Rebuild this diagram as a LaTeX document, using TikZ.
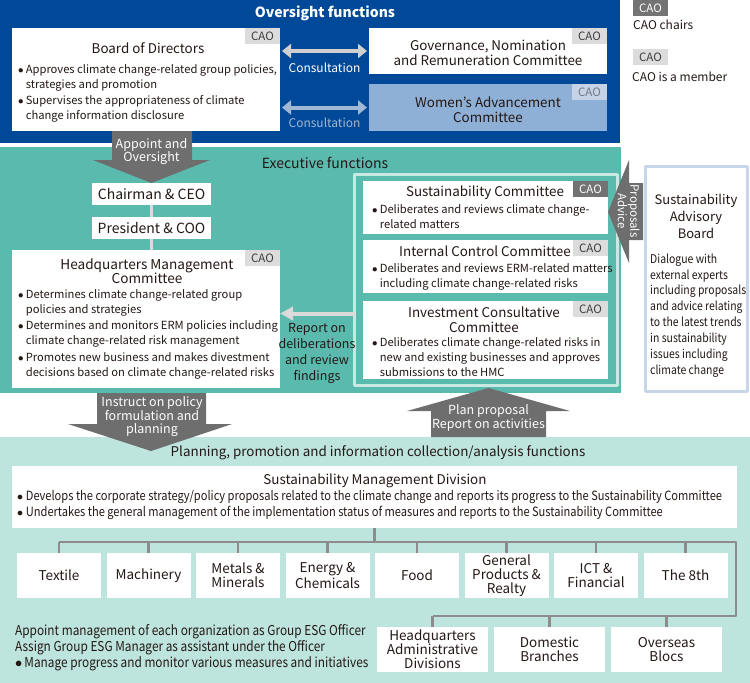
\documentclass[tikz,border=0pt]{standalone}
\usepackage{fontspec}
\setmainfont{Noto Sans CJK JP}
\newfontfamily\condfont[FakeStretch=0.87]{Noto Sans CJK JP}
\usetikzlibrary{arrows.meta,positioning}

\definecolor{oblue}{RGB}{0,73,152}
\definecolor{teal}{RGB}{91,186,174}
\definecolor{mint}{RGB}{190,228,222}
\definecolor{wablue}{RGB}{143,176,214}
\definecolor{wtag}{RGB}{198,211,230}
\definecolor{wtagtxt}{RGB}{110,120,135}
\definecolor{tagdark}{RGB}{115,115,115}
\definecolor{taglight}{RGB}{220,220,220}
\definecolor{tagtxt}{RGB}{60,60,60}
\definecolor{agray}{RGB}{110,110,110}
\definecolor{consone}{RGB}{208,208,208}
\definecolor{constwo}{RGB}{160,184,214}
\definecolor{framec}{RGB}{200,232,226}
\definecolor{conngray}{RGB}{218,218,218}
\definecolor{treegray}{RGB}{140,140,140}
\definecolor{advborder}{RGB}{200,214,234}
\definecolor{txt}{RGB}{35,24,21}

\newcommand\bul{\makebox[0.68em][l]{$\bullet$}}
\newcommand\ind{\hspace*{0.68em}}

\tikzset{
  panel/.style={inner sep=0pt, outer sep=0pt, anchor=north west},
  wbox/.style={panel, fill=white},
  tagchair/.style={fill=tagdark, text=white, inner sep=0pt, outer sep=0pt,
    minimum width=35, minimum height=16, anchor=north east,
    font=\fontsize{11.5}{12}\selectfont},
  tagmember/.style={tagchair, fill=taglight, text=tagtxt},
  heading/.style={font=\fontsize{13.4}{15}\selectfont, align=center, inner sep=0pt},
  paneltitle/.style={font=\fontsize{14}{15}\selectfont\bfseries, inner sep=0pt},
  bullets/.style={align=left, inner sep=0pt, anchor=west,
    font=\fontsize{11.2}{15}\selectfont},
  bigarrow/.style={fill=agray},
  arrowtext/.style={text=white, align=center, inner sep=0pt,
    font=\fontsize{12}{12}\selectfont},
  tree/.style={draw=treegray, line width=2.5},
  divbox/.style={fill=white, minimum width=84, minimum height=45, inner sep=0pt,
    align=center, font=\fontsize{13.5}{14}\selectfont},
  dbl/.style={line width=4, shorten <=2pt, shorten >=2pt,
    {Triangle[length=9pt,width=14pt]}-{Triangle[length=9pt,width=14pt]}},
}

\begin{document}
\begin{tikzpicture}[x=1pt,y=-1pt,line join=round,text=txt,
  font=\fontsize{11.5}{14}\selectfont]
\useasboundingbox (0,0) rectangle (750,683);

% panels
\fill[oblue] (0,0) rectangle (620,143);
\fill[teal] (0,147) rectangle (621,393);
\fill[mint] (0,437) rectangle (750,683);

% legend
\node[tagchair] (legchair) at (668,0) {CAO};
\node[anchor=west, inner sep=0pt, font=\fontsize{12}{12}\selectfont] at (633,25) {CAO chairs};
\node[tagmember] (legmember) at (668,49) {CAO};
\node[anchor=west, inner sep=0pt, font=\fontsize{12}{12}\selectfont] at (632,77) {CAO is a member};

% oversight functions
\node[paneltitle, text=white] at (325,13) {Oversight functions};

\node[wbox, minimum width=268, minimum height=103] (bod) at (12,28) {};
\node[tagmember] at (bod.north east) {CAO};
\node[heading] at (148,48) {Board of Directors};
\node[bullets] at (18,93.3) {\bul Approves climate change-related group policies,\\
  \ind strategies and promotion\\[1.5pt]
  \bul Supervises the appropriateness of climate\\
  \ind change information disclosure};

\node[wbox, minimum width=238, minimum height=46] (gov) at (369,28) {};
\node[tagmember] at (gov.north east) {CAO};
\node[heading] at (488,52.5) {Governance, Nomination\\and Remuneration Committee};

\node[wbox, fill=wablue, minimum width=238, minimum height=47] (wac) at (369,84) {};
\node[tagmember, fill=wtag, text=wtagtxt] at (wac.north east) {CAO};
\node[heading] at (488,109.5) {Women’s Advancement\\Committee};

\draw[dbl, draw=consone, fill=consone] (bod.east |- gov.west) -- (gov.west);
\node[arrowtext] at (324.5,68) {Consultation};
\draw[dbl, draw=constwo, fill=constwo] (bod.east |- wac.west) -- (wac.west);
\node[arrowtext, text=constwo] at (324.5,123) {Consultation};

% executive functions
\node[inner sep=0pt, font=\fontsize{14}{15}\selectfont] at (325,163) {Executive functions};

\fill[bigarrow] (112,131) -- (192,131) -- (192,160) -- (210,160) -- (151.5,183)
  -- (93,160) -- (112,160) -- cycle;
\node[arrowtext, font=\fontsize{12.5}{11.5}\selectfont] at (151.5,151.5) {Appoint and\\Oversight};

\node[fill=white, minimum width=119, minimum height=22, inner sep=0pt,
  font=\fontsize{14}{14}\selectfont] (ceo) at (151.5,194) {Chairman \& CEO};
\node[fill=white, minimum width=119, minimum height=22, inner sep=0pt,
  font=\fontsize{14}{14}\selectfont] (coo) at (151.5,228) {President \& COO};

\node[wbox, minimum width=268, minimum height=138] (hmc) at (12,250) {};
\node[tagmember] at (hmc.north east) {CAO};
\draw[draw=conngray, line width=3] (ceo) -- (coo);
\draw[draw=conngray, line width=3] (coo.south) -- (coo.south |- hmc.north);
\node[heading, font=\fontsize{13.6}{14.5}\selectfont] at (147,271) {Headquarters Management\\Committee};
\node[bullets] at (18,334) {\bul Determines climate change-related group\\
  \ind policies and strategies\\[1.5pt]
  \bul Determines and monitors ERM policies including\\
  \ind climate change-related risk management\\[1.5pt]
  \bul Promotes new business and makes divestment\\
  \ind decisions based on climate change-related risks};

% committees frame
\node[panel, draw=framec, line width=3.5, minimum width=263, minimum height=211] (frame) at (354.5,174.5) {};

\node[wbox, minimum width=245, minimum height=53] (susc) at (363,181) {};
\node[tagchair] at (susc.north east) {CAO};
\node[heading] at (485,193) {Sustainability Committee};
\node[bullets] at (372,217) {\bul Deliberates and reviews climate change-\\
  \ind related matters};

\node[wbox, minimum width=245, minimum height=53] (icc) at (363,240) {};
\node[tagmember] at (icc.north east) {CAO};
\node[heading] at (485,251) {Internal Control Committee};
\node[bullets] at (372,276.5) {\bul Deliberates and reviews ERM-related matters\\
  \ind including climate change-related risks};

\node[wbox, minimum width=245, minimum height=78] (icom) at (363,301) {};
\node[tagmember] at (icom.north east) {CAO};
\node[heading] at (484,319.5) {Investment Consultative\\Committee};
\node[bullets] at (372,357.5) {\bul Deliberates climate change-related risks in\\
  \ind new and existing businesses and approves\\
  \ind submissions to the HMC};

\coordinate (repy) at (0,313.5);
\draw[draw=conngray, fill=conngray, line width=4,
  -{Triangle[length=13pt,width=13pt]}] (frame.west |- repy) -- (hmc.east |- repy);
\node[align=center, inner sep=0pt, font=\fontsize{12.5}{16}\selectfont] at (317,353)
  {Report on\\deliberations\\and review\\findings};

% sustainability advisory board
\node[panel, draw=advborder, fill=white, line width=3, minimum width=102,
  minimum height=225] (sab) at (645.5,166.5) {};
\fill[bigarrow] (643,183) -- (629,183) -- (629,160) -- (608,212) -- (629,263)
  -- (629,240) -- (643,240) -- cycle;
\node[arrowtext, rotate=-90, font=\fontsize{11.5}{12.5}\selectfont] at (628.5,211) {Proposals\\Advice};
\node[heading, font=\fontsize{13}{17}\selectfont] at (696,216) {Sustainability\\Advisory\\Board};
\node[anchor=west, align=left, inner sep=0pt, font=\condfont\fontsize{12}{15.9}\selectfont]
  at (650,315.5) {Dialogue with\\external experts\\including proposals\\and advice relating\\
  to the latest trends\\in sustainability\\issues including\\climate change};

% arrows between executive and planning
\fill[bigarrow] (97,393) -- (206,393) -- (206,424) -- (232,424) -- (151,451)
  -- (68,424) -- (97,424) -- cycle;
\node[arrowtext, font=\fontsize{12.5}{12.5}\selectfont] at (152,416.5) {Instruct on policy\\formulation and\\planning};
\fill[bigarrow] (431,437) -- (546,437) -- (546,411) -- (570,411) -- (488.5,388)
  -- (407,411) -- (431,411) -- cycle;
\node[arrowtext, font=\fontsize{12.5}{12}\selectfont] at (488.5,418) {Plan proposal\\Report on activities};

% planning functions
\node[inner sep=0pt, font=\fontsize{13.4}{15}\selectfont] at (378,453)
  {Planning, promotion and information collection/analysis functions};
\node[wbox, minimum width=725, minimum height=62] (smd) at (12,466) {};
\node[heading] at (375,481) {Sustainability Management Division};
\node[bullets, font=\condfont\fontsize{12.75}{16}\selectfont] at (17,505)
  {\bul Develops the corporate strategy/policy proposals related to the climate change and reports its progress to the Sustainability Committee\\
   \bul Undertakes the general management of the implementation status of measures and reports to the Sustainability Committee};

\foreach \n/\t [count=\i from 0] in {textile/Textile, machinery/Machinery,
  metals/{Metals \&\\Minerals}, energy/{Energy \&\\Chemicals}, food/Food,
  general/{General\\Products \&\\Realty}, ict/{ICT \&\\Financial}, eighth/The 8th}
{
  \node[divbox] (\n) at ({59+89.5*\i},575.5) {\t};
}
\node[divbox, minimum width=111] (hqad) at (432.5,649.5) {Headquarters\\Administrative\\Divisions};
\node[divbox, minimum width=111] (domb) at (549.5,649.5) {Domestic\\Branches};
\node[divbox, minimum width=111] (ovsb) at (666.5,649.5) {Overseas\\Blocs};

\coordinate (busa) at (0,542);
\coordinate (busb) at (0,616);
\coordinate (rail) at (736,0);
\draw[tree] (smd.south) -- (smd.south |- busa);
\draw[tree] (textile.north |- busa) -- (rail |- busa) -- (rail |- busb) -- (hqad.north |- busb);
\foreach \n in {textile,machinery,metals,energy,food,general,ict,eighth}
{
  \draw[tree] (\n.north) -- (\n.north |- busa);
}
\foreach \n in {hqad,domb,ovsb}
{
  \draw[tree] (\n.north) -- (\n.north |- busb);
}

\node[anchor=west, align=left, inner sep=0pt, font=\condfont\fontsize{13.6}{16}\selectfont]
  at (15,648) {Appoint management of each organization as Group ESG Officer\\
  Assign Group ESG Manager as assistant under the Officer\\
  \bul Manage progress and monitor various measures and initiatives};
\end{tikzpicture}
\end{document}
